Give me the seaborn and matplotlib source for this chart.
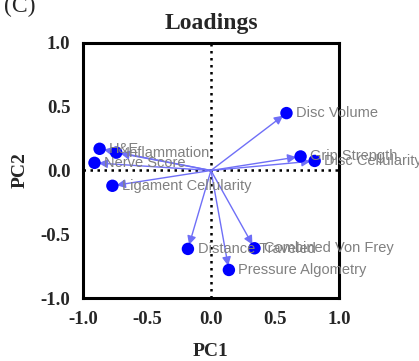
import pandas as pd
import matplotlib
matplotlib.use('Agg')
import matplotlib.pyplot as plt
import seaborn as sns

# PCA loadings
variables = ['Disc Volume', 'Grip Strength', 'Disc Cellularity', 'H&E', 'Inflammation',
             'Nerve Score', 'Ligament Cellularity', 'Distance Traveled',
             'Combined Von Frey', 'Pressure Algometry']
pc1 = [0.59, 0.70, 0.81, -0.87, -0.74, -0.91, -0.77, -0.18, 0.34, 0.14]
pc2 = [0.45, 0.11, 0.075, 0.17, 0.14, 0.06, -0.12, -0.615, -0.61, -0.78]
ticks = [-1.0, -0.5, 0.0, 0.5, 1.0]
tick_labels = ['-1.0', '-0.5', '0.0', '0.5', '1.0']

data = pd.DataFrame({'variable': variables, 'PC1': pc1, 'PC2': pc2})

sns.set_style('white')
plt.rcParams['font.family'] = ['Liberation Serif', 'DejaVu Serif']

fig = plt.figure(figsize=(4.19, 3.61), dpi=100)
ax = fig.add_axes([0.198, 0.1745, 0.611, 0.7065])

# dotted zero lines
ax.axhline(0, color='black', linestyle=(0, (1, 1.8)), linewidth=1.8, zorder=1)
ax.axvline(0, color='black', linestyle=(0, (1, 1.8)), linewidth=1.8, zorder=1)

# arrows from origin to each loading
for _, row in data.iterrows():
    ax.annotate('', xy=(row['PC1'], row['PC2']), xytext=(0, 0),
                arrowprops=dict(arrowstyle='-|>', color='#6f6ff7', lw=1.0,
                                mutation_scale=13, shrinkA=0, shrinkB=3),
                zorder=2)

sns.scatterplot(data=data, x='PC1', y='PC2', color='#0000ff', s=80,
                edgecolor='none', ax=ax, zorder=3)

for _, row in data.iterrows():
    ax.text(row['PC1'] + 0.075, row['PC2'], row['variable'], color='#808080',
            fontsize=10.5, family=['Liberation Sans', 'DejaVu Sans'],
            va='center', ha='left', zorder=4, clip_on=False)

ax.set_xlim(-1, 1)
ax.set_ylim(-1, 1)
ax.set_xticks(ticks)
ax.set_yticks(ticks)
ax.set_xticklabels(tick_labels, fontweight='bold', fontsize=13.5)
ax.set_yticklabels(tick_labels, fontweight='bold', fontsize=13.5)
ax.tick_params(direction='out', length=7, width=2.2, color='black', pad=2)
for sp in ax.spines.values():
    sp.set_visible(True)
    sp.set_color('black')
    sp.set_linewidth(2.2)

ax.set_xlabel('PC1', fontweight='bold', fontsize=14, labelpad=11)
ax.set_ylabel('PC2', fontweight='bold', fontsize=14, labelpad=9)
ax.set_title('Loadings', fontweight='bold', fontsize=17, pad=10)
fig.text(0.01, 1.012, '(C)', fontsize=17, va='top', ha='left')

fig.savefig('out.png', dpi=100)
